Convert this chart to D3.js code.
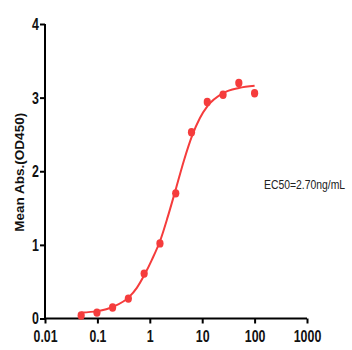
<!DOCTYPE html>
<html lang="en">
<head>
<meta charset="UTF-8">
<title>EC50 curve</title>
<script src="https://d3js.org/d3.v7.min.js"></script>
<style>
  html, body { margin: 0; padding: 0; background: #fff; }
  svg { display: block; }
</style>
</head>
<body>
<div id="chart"></div>
<script>
// measured points (ng/mL vs OD450)
const conc = [0.049, 0.098, 0.195, 0.39, 0.78, 1.5625, 3.125, 6.25, 12.5, 25, 50, 100];
const od = [0.04, 0.08, 0.15, 0.27, 0.61, 1.02, 1.70, 2.53, 2.94, 3.04, 3.20, 3.06];

// fitted curve
const fitX = [0.049, 0.1, 0.2, 0.4, 0.57, 0.8, 1.1, 1.6, 2.2, 3.2, 4.5, 6.4, 9, 12.5, 25, 50, 100];
const fitY = [0.08, 0.10, 0.16, 0.29, 0.42, 0.60, 0.80, 1.07, 1.38, 1.78, 2.15, 2.48, 2.72, 2.88, 3.06, 3.13, 3.16];

const xTicks = [0.01, 0.1, 1, 10, 100, 1000];
const xTickLabels = ["0.01", "0.1", "1", "10", "100", "1000"];
const yTicks = [0, 1, 2, 3, 4];

const width = 352, height = 350;
const red = "#f53c3c";

const svg = d3.select("#chart").append("svg")
    .attr("width", width)
    .attr("height", height);

const x = d3.scaleLog().domain([0.01, 1000]).range([45, 307]);
const y = d3.scaleLinear().domain([0, 4]).range([318.5, 24]);

const tickFont = "'Liberation Sans', Arial, sans-serif";

// squeeze the bold labels so they look condensed like the original
function narrow(sel) {
  sel.each(function () {
    const s = this.textContent;
    const digits = s.replace(/[^0-9]/g, "").length;
    const dots = s.length - digits;
    d3.select(this)
        .attr("textLength", digits * 6.9 + dots * 3.2)
        .attr("lengthAdjust", "spacingAndGlyphs");
  });
}

// x axis
const xAxis = svg.append("g")
    .attr("transform", `translate(0,${y(0)})`)
    .call(d3.axisBottom(x).tickValues(xTicks).tickFormat((d, i) => xTickLabels[i]).tickSize(5).tickPadding(6));

// y axis
const yAxis = svg.append("g")
    .attr("transform", `translate(${x(0.01)},0)`)
    .call(d3.axisLeft(y).tickValues(yTicks).tickFormat(d3.format("d")).tickSize(5).tickPadding(1));

[xAxis, yAxis].forEach(g => {
  g.select(".domain").attr("stroke", "#000").attr("stroke-width", 2);
  g.selectAll(".tick line").attr("stroke", "#000").attr("stroke-width", 2);
  g.selectAll(".tick text")
      .attr("fill", "#111")
      .style("font-family", tickFont)
      .style("font-weight", "bold")
      .style("font-size", "17px")
      .call(narrow);
});
// the domain path draws outer ticks; redraw it as plain lines
xAxis.select(".domain").attr("d", `M${x(0.01)},0H${x(1000)}`);
yAxis.select(".domain").attr("d", `M0,${y(4)}V${y(0)}`);

// y label
svg.append("text")
    .attr("transform", `translate(19,${(y(0) + y(4)) / 2 + 1}) rotate(-90)`)
    .attr("text-anchor", "middle")
    .attr("dominant-baseline", "central")
    .style("font-family", "'Liberation Sans', Arial, sans-serif")
    .style("font-weight", "bold")
    .style("font-size", "13.5px")
    .attr("fill", "#111")
    .text("Mean Abs.(OD450)");

// fitted curve
const fit = fitX.map((d, i) => [d, fitY[i]]);
svg.append("path")
    .datum(fit)
    .attr("fill", "none")
    .attr("stroke", red)
    .attr("stroke-width", 2)
    .attr("d", d3.line().x(d => x(d[0])).y(d => y(d[1])).curve(d3.curveMonotoneX));

// data points
svg.append("g")
  .selectAll("ellipse")
  .data(conc.map((d, i) => [d, od[i]]))
  .join("ellipse")
    .attr("cx", d => x(d[0]))
    .attr("cy", d => y(d[1]))
    .attr("rx", 3.6)
    .attr("ry", 4.2)
    .attr("fill", red);

// EC50 annotation (stretched vertically to mimic the condensed face)
svg.append("text")
    .attr("transform", "translate(264,189) scale(1,1.2)")
    .style("font-family", tickFont)
    .style("font-size", "10.4px")
    .attr("fill", "#222")
    .text("EC50=2.70ng/mL");
</script>
</body>
</html>
